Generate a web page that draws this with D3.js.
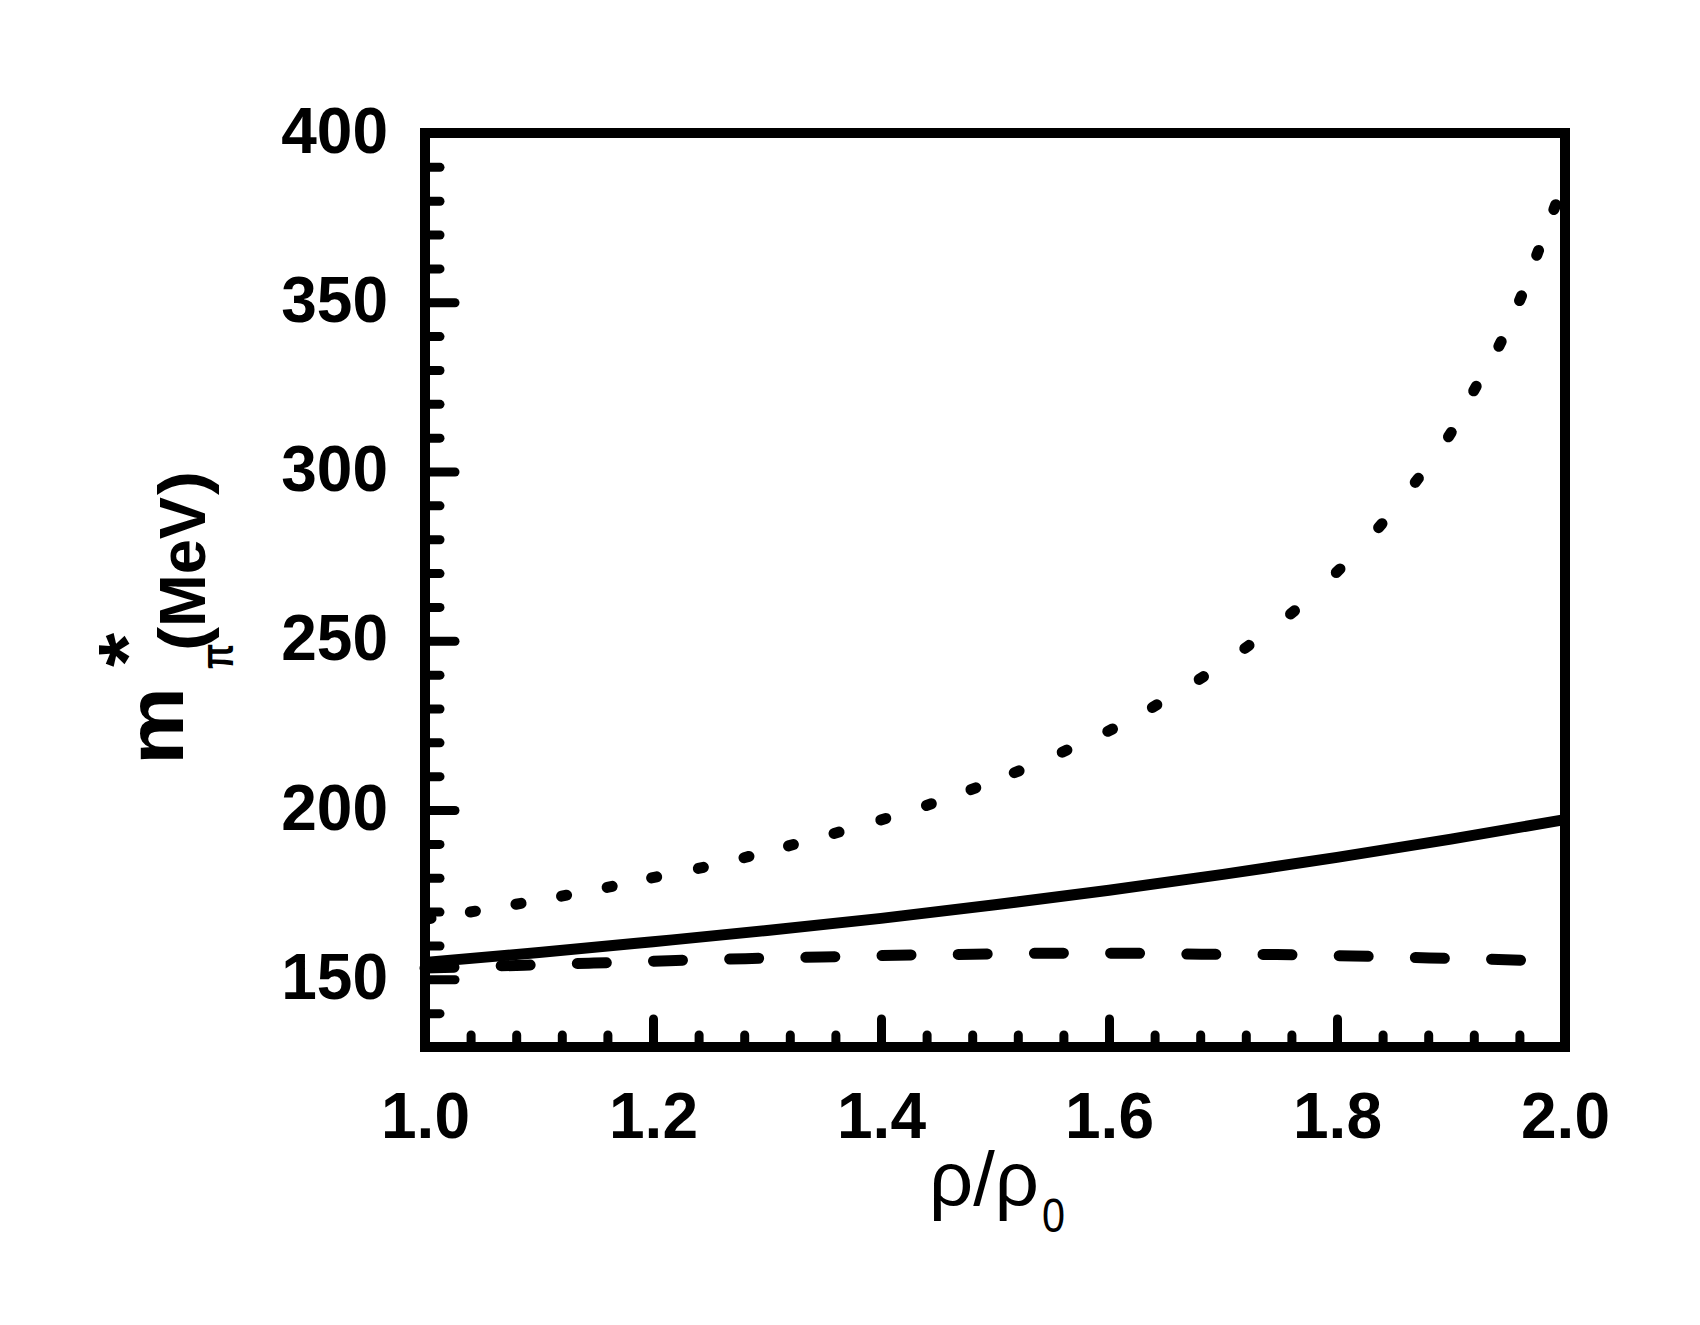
<!DOCTYPE html>
<meta charset="utf-8">
<style>
body {
  margin: 0;
  background: #fff;
  font-family: "Liberation Sans", Arial, sans-serif;
}
.frame {
  fill: none;
  stroke: #000;
  stroke-width: 10;
}
.tick line {
  stroke: #000;
  stroke-width: 9;
  stroke-linecap: round;
}
.tick text {
  font-family: "Liberation Sans", Arial, sans-serif;
  font-weight: bold;
  font-size: 64px;
  fill: #000;
}
.curve {
  fill: none;
  stroke: #000;
  stroke-width: 11;
}
</style>
<body>
<script src="https://cdn.jsdelivr.net/npm/d3@7"></script>
<script>

// values: [rho/rho0, m*_pi in MeV]
var solidData = [
  [1.0, 155.0], [1.1, 157.9], [1.2, 161.1], [1.3, 164.4], [1.4, 168.0],
  [1.5, 172.0], [1.6, 176.3], [1.7, 181.0], [1.8, 186.0], [1.9, 191.4],
  [2.0, 197.2]
];

var dashedData = [
  [1.0, 153.3], [1.08, 154.1], [1.148, 154.8], [1.214, 155.5], [1.281, 156.1],
  [1.348, 156.6], [1.414, 157.1], [1.481, 157.4], [1.547, 157.7], [1.614, 157.7],
  [1.681, 157.4], [1.747, 157.3], [1.814, 156.9], [1.881, 156.3], [1.948, 155.8],
  [1.966, 155.6]
];

// each entry is one dot of the dotted curve
var dottedData = [
  [1.003, 167.9], [1.042, 170.0], [1.082, 172.3], [1.122, 174.7], [1.162, 177.3],
  [1.201, 180.1], [1.242, 182.9], [1.282, 186.1], [1.321, 189.6], [1.361, 193.3],
  [1.402, 197.3], [1.442, 201.6], [1.481, 206.3], [1.519, 211.3], [1.561, 217.4],
  [1.601, 223.6], [1.640, 230.7], [1.681, 239.0], [1.721, 248.2], [1.761, 258.4],
  [1.801, 270.7], [1.838, 284.0], [1.870, 297.4], [1.899, 310.9], [1.921, 324.5],
  [1.943, 337.7], [1.961, 351.2], [1.976, 364.6], [1.991, 378.1]
];

var xMajorTicks = [1.0, 1.2, 1.4, 1.6, 1.8, 2.0];
var xMinorTicks = [1.04, 1.08, 1.12, 1.16, 1.24, 1.28, 1.32, 1.36, 1.44, 1.48, 1.52, 1.56,
                   1.64, 1.68, 1.72, 1.76, 1.84, 1.88, 1.92, 1.96];
var yMajorTicks = [150, 200, 250, 300, 350, 400];
var yMinorTicks = [140, 160, 170, 180, 190, 210, 220, 230, 240, 260, 270, 280, 290,
                   310, 320, 330, 340, 360, 370, 380, 390];

var width = 1700,
    height = 1325;

var x = d3.scaleLinear().domain([1, 2]).range([425, 1565]);
var y = d3.scaleLinear().domain([130, 400]).range([1047, 133]);

var svg = d3.select("body").append("svg")
    .attr("width", width)
    .attr("height", height);

svg.append("rect")
    .attr("width", width)
    .attr("height", height)
    .attr("fill", "#fff");

var line = d3.line()
    .x(function(d) { return x(d[0]); })
    .y(function(d) { return y(d[1]); })
    .curve(d3.curveMonotoneX);

svg.append("path")
    .datum(solidData)
    .attr("class", "curve")
    .attr("d", line);

svg.append("path")
    .datum(dashedData)
    .attr("class", "curve")
    .attr("stroke-dasharray", "29 47.2")
    .attr("stroke-linecap", "round")
    .attr("d", line);

// dots: short round-capped strokes along the curve direction
svg.selectAll(".dot")
    .data(dottedData)
  .enter().append("line")
    .attr("class", "dot")
    .each(function(d, i) {
      var p = dottedData[Math.max(i - 1, 0)],
          n = dottedData[Math.min(i + 1, dottedData.length - 1)];
      var dx = x(n[0]) - x(p[0]),
          dy = y(n[1]) - y(p[1]),
          len = Math.sqrt(dx * dx + dy * dy),
          ux = dx / len * 2.6,
          uy = dy / len * 2.6;
      d3.select(this)
        .attr("x1", x(d[0]) - ux)
        .attr("y1", y(d[1]) - uy)
        .attr("x2", x(d[0]) + ux)
        .attr("y2", y(d[1]) + uy);
    })
    .attr("stroke", "#000")
    .attr("stroke-width", 11)
    .attr("stroke-linecap", "round");

// axes (ticks point inward)
var gx = svg.append("g").attr("transform", "translate(0,1047)");
gx.append("g")
    .call(d3.axisBottom(x).tickValues(xMinorTicks).tickSize(-12).tickFormat(""));
gx.append("g")
    .call(d3.axisBottom(x).tickValues(xMajorTicks).tickSize(-28).tickFormat(d3.format(".1f")));
gx.selectAll(".domain").remove();
gx.selectAll(".tick text")
    .attr("y", 91)
    .attr("dy", null);

var gy = svg.append("g").attr("transform", "translate(425,0)");
gy.append("g")
    .call(d3.axisLeft(y).tickValues(yMinorTicks).tickSize(-15).tickFormat(""));
gy.append("g")
    .call(d3.axisLeft(y).tickValues(yMajorTicks).tickSize(-30).tickPadding(37).tickFormat(d3.format("d")));
gy.selectAll(".domain").remove();
gy.selectAll(".tick text")
    .attr("dy", "0.3em");

svg.append("rect")
    .attr("class", "frame")
    .attr("x", x(1))
    .attr("y", y(400))
    .attr("width", x(2) - x(1))
    .attr("height", y(130) - y(400));

// x axis title
var xt = svg.append("g").attr("font-family", "'Liberation Sans', Arial, sans-serif");
xt.append("text")
    .attr("x", 929).attr("y", 1205)
    .attr("font-size", 76)
    .attr("textLength", 110)
    .attr("lengthAdjust", "spacingAndGlyphs")
    .text("ρ/ρ");
xt.append("text")
    .attr("x", 1042).attr("y", 1232)
    .attr("font-size", 48)
    .attr("textLength", 23)
    .attr("lengthAdjust", "spacingAndGlyphs")
    .text("0");

// y axis title, rotated
var yt = svg.append("g")
    .attr("transform", "translate(183,765) rotate(-90)")
    .attr("font-family", "'Liberation Sans', Arial, sans-serif")
    .attr("font-weight", "bold");

var yParts = [
  {t: "m",   x: 0,   y: 0,   size: 80, len: 78},
  {t: "*",   x: 98,  y: -28, size: 82, len: 34},
  {t: "π",   x: 96,  y: 50,  size: 46, len: 25},
  {t: "(",   x: 114, y: 22,  size: 66, len: 24},
  {t: "MeV", x: 138, y: 22,  size: 64, len: 130},
  {t: ")",   x: 270, y: 22,  size: 66, len: 24}
];

yt.selectAll("text")
    .data(yParts)
  .enter().append("text")
    .attr("x", function(d) { return d.x; })
    .attr("y", function(d) { return d.y; })
    .attr("font-size", function(d) { return d.size; })
    .attr("textLength", function(d) { return d.len; })
    .attr("lengthAdjust", "spacingAndGlyphs")
    .text(function(d) { return d.t; });

</script>
